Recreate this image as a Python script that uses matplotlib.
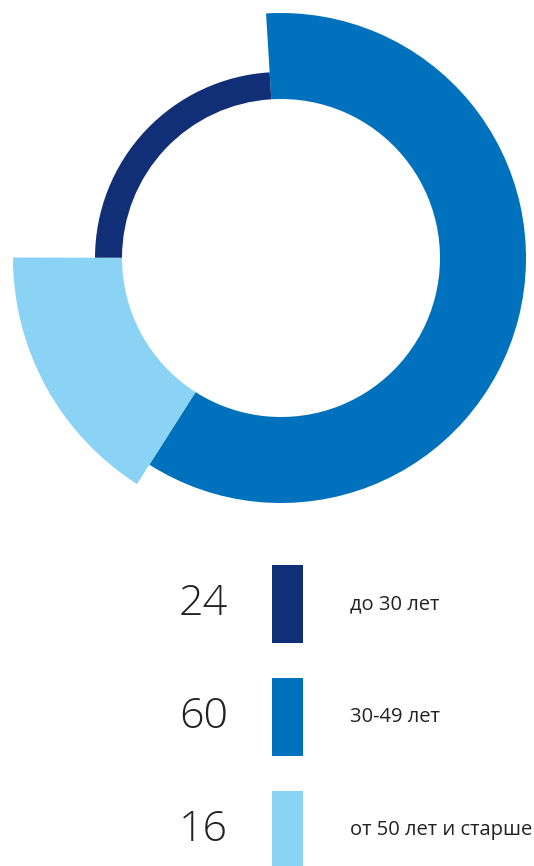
import matplotlib.pyplot as plt
from matplotlib.patches import Wedge, Rectangle

# data
labels = ["до 30 лет", "30-49 лет", "от 50 лет и старше"]
values = [24, 60, 16]
colors = ["#112f76", "#0071bc", "#8ad3f5"]
outer_r = [186, 245, 268]  # each ring piece has its own outer radius
inner_r = 159
start = 93.5

W, H = 534, 866
fig = plt.figure(figsize=(W / 100, H / 100), dpi=100)
ax = fig.add_axes([0, 0, 1, 1])
ax.set_xlim(0, W)
ax.set_ylim(H, 0)
ax.set_aspect("equal")
ax.axis("off")

cx, cy = 281, 258
total = sum(values)
# order around the ring, clockwise from the top: 60, 16, 24
order = [1, 2, 0]
angle = start
for i in order:
    sweep = values[i] / total * 360
    # y axis is flipped, so clockwise on screen = increasing angle
    t1 = -angle
    t2 = -angle + sweep
    ax.add_patch(Wedge((cx, cy), outer_r[i], t1, t2,
                       width=outer_r[i] - inner_r, color=colors[i], lw=0))
    angle -= sweep

# legend rows
row_y = [604, 717, 830]
for i in range(3):
    y = row_y[i]
    ax.text(228, y, str(values[i]), ha="right", va="center",
            fontsize=31, fontfamily="Open Sans", fontweight="light",
            color="#222222")
    ax.add_patch(Rectangle((272, y - 39), 31, 78, color=colors[i], lw=0))
    ax.text(350, y, labels[i], ha="left", va="center",
            fontsize=14.5, fontfamily="Open Sans", color="#222222")

fig.savefig("out.png", dpi=100)
